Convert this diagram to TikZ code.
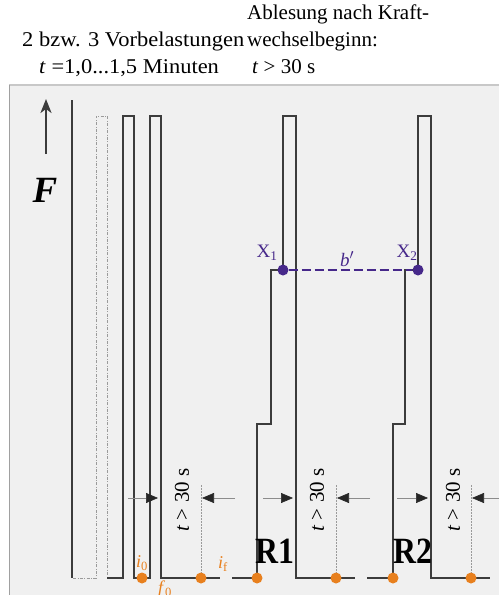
\documentclass[tikz,border=0pt]{standalone}
\usepackage{fontspec}
\setmainfont{Liberation Serif}
\usetikzlibrary{arrows.meta}
\definecolor{bg}{HTML}{F0F0F0}
\definecolor{bordtop}{HTML}{C8C8C8}
\definecolor{bordleft}{HTML}{A0A0A0}
\definecolor{ln}{HTML}{3C3C3C}
\definecolor{dd}{HTML}{9A9A9A}
\definecolor{org}{HTML}{E8801E}
\definecolor{pur}{HTML}{46288A}
\definecolor{guide}{HTML}{8C8C8C}
\tikzset{
  hdr/.style={anchor=base west, inner sep=0pt, font=\fontsize{21}{25}\selectfont},
  hdrwide/.style={hdr, xscale=1.07},
  wave/.style={draw=ln, line width=1.3pt, line join=miter},
  ddash/.style={draw=dd, line width=0.8pt, dash pattern=on 3pt off 1.5pt on 0.8pt off 1.5pt},
  odot/.style={circle, fill=org, draw=none, minimum size=11pt, inner sep=0pt},
  pdot/.style={circle, fill=pur, draw=none, minimum size=11pt, inner sep=0pt},
  olab/.style={text=org, inner sep=0pt, font=\fontsize{18}{20}\selectfont},
  plab/.style={text=pur, inner sep=0pt, font=\fontsize{19}{21}\selectfont},
  guideline/.style={draw=guide, line width=0.6pt, -{Triangle[length=12pt,width=10pt,color=black!85]}},
  dotv/.style={draw=dd, line width=0.7pt, dash pattern=on 1.5pt off 1.5pt},
  tlab/.style={rotate=90, inner sep=0pt, font=\fontsize{21}{25}\selectfont},
  rlab/.style={inner sep=0pt, xscale=0.86, font=\fontsize{37}{40}\selectfont\bfseries},
}
\begin{document}
\begin{tikzpicture}[x=1pt,y=-1pt]
\useasboundingbox (0,0) rectangle (499,595);
% background panel
\fill[bg] (9,85) rectangle (499,595);
\draw[bordtop, line width=1.8pt] (499,85) -- (9,85);
\draw[bordleft, line width=0.8pt] (9,85) -- (9,595);

% header
\node[hdr] (h1) at (247,19) {Ablesung nach Kraft-};
\node[hdrwide] (h2) at (22,46) {2 bzw. 3 Vorbelastungen};
\node[hdr] (h3) at (247,46) {wechselbeginn:};
\node[hdrwide] (h4) at (39,73) {\textit{t} =1,0...1,5 Minuten};
\node[hdr] (h5) at (252,73) {\textit{t} > 30 s};

% force arrow and label
\coordinate (fa1) at (46,154);
\coordinate (fa2) at (46,99);
\draw[ln, line width=1.8pt, -{Stealth[length=14pt,width=11pt,inset=4pt]}] (fa1) -- (fa2);
\node[inner sep=0pt, font=\fontsize{37}{40}\selectfont\bfseries\itshape] (F) at (45,190) {F};

% thick axis line
\draw[ln, line width=2.6pt] (72,100) -- (72,578);

% dash-dot pre-load
\draw[ddash] (73,578) -- (96,578) -- (96,116) -- (107,116) -- (107,578);

% waveform
\draw[wave] (107,578) -- (123,578) -- (123,116) -- (134,116) -- (134,578) -- (150,578)
  -- (150,116) -- (161,116) -- (161,578) -- (220,578);
\draw[wave] (232,578) -- (257,578) -- (257,424) -- (271,424) -- (271,270) -- (283,270)
  -- (283,116) -- (296,116) -- (296,578) -- (355,578);
\draw[wave] (367,578) -- (393,578) -- (393,424) -- (405,424) -- (405,270) -- (418,270)
  -- (418,116) -- (431,116) -- (431,578) -- (490,578);

% dotted verticals
\draw[dotv] (201,485) -- (201,578);
\draw[dotv] (336,485) -- (336,578);
\draw[dotv] (471,485) -- (471,578);

% t > 30 s arrows
\coordinate (a1s) at (128,498); \coordinate (a1e) at (158,498);
\coordinate (a2s) at (235,498); \coordinate (a2e) at (202,498);
\coordinate (b1s) at (263,498); \coordinate (b1e) at (293,498);
\coordinate (b2s) at (370,498); \coordinate (b2e) at (337,498);
\coordinate (c1s) at (397,498); \coordinate (c1e) at (428,498);
\coordinate (c2s) at (499,498); \coordinate (c2e) at (472,498);
\draw[guideline] (a1s) -- (a1e);
\draw[guideline] (a2s) -- (a2e);
\draw[guideline] (b1s) -- (b1e);
\draw[guideline] (b2s) -- (b2e);
\draw[guideline] (c1s) -- (c1e);
\draw[guideline] (c2s) -- (c2e);
\node[tlab] (t1) at (182,500) {\textit{t} > 30 s};
\node[tlab] (t2) at (317,500) {\textit{t} > 30 s};
\node[tlab] (t3) at (453,500) {\textit{t} > 30 s};

% R labels
\node[rlab] (R1) at (275,551) {R1};
\node[rlab] (R2) at (413,551) {R2};

% purple measurement
\node[pdot] (X1) at (283,270) {};
\node[pdot] (X2) at (418,270) {};
\draw[pur, line width=1.6pt, dash pattern=on 9pt off 4pt] (X1) -- (X2);
\node[plab] (lx1) at (267,253) {X\textsubscript{1}};
\node[plab] (lx2) at (407,253) {X\textsubscript{2}};
\node[plab] (lb) at (347,259) {\textit{b}$'$};

% orange points
\node[odot] (o1) at (142,578) {};
\node[odot] (o2) at (201,578) {};
\node[odot] (o3) at (257,578) {};
\node[odot] (o4) at (336,578) {};
\node[odot] (o5) at (393,578) {};
\node[odot] (o6) at (471,578) {};
\node[olab] (li0) at (142,563) {\textit{i}\textsubscript{0}};
\node[olab] (lif) at (223,564) {\textit{i}\textsubscript{f}};
\node[olab] (lf0) at (165,589) {\textit{f}\textsubscript{0}};
\end{tikzpicture}
\end{document}
